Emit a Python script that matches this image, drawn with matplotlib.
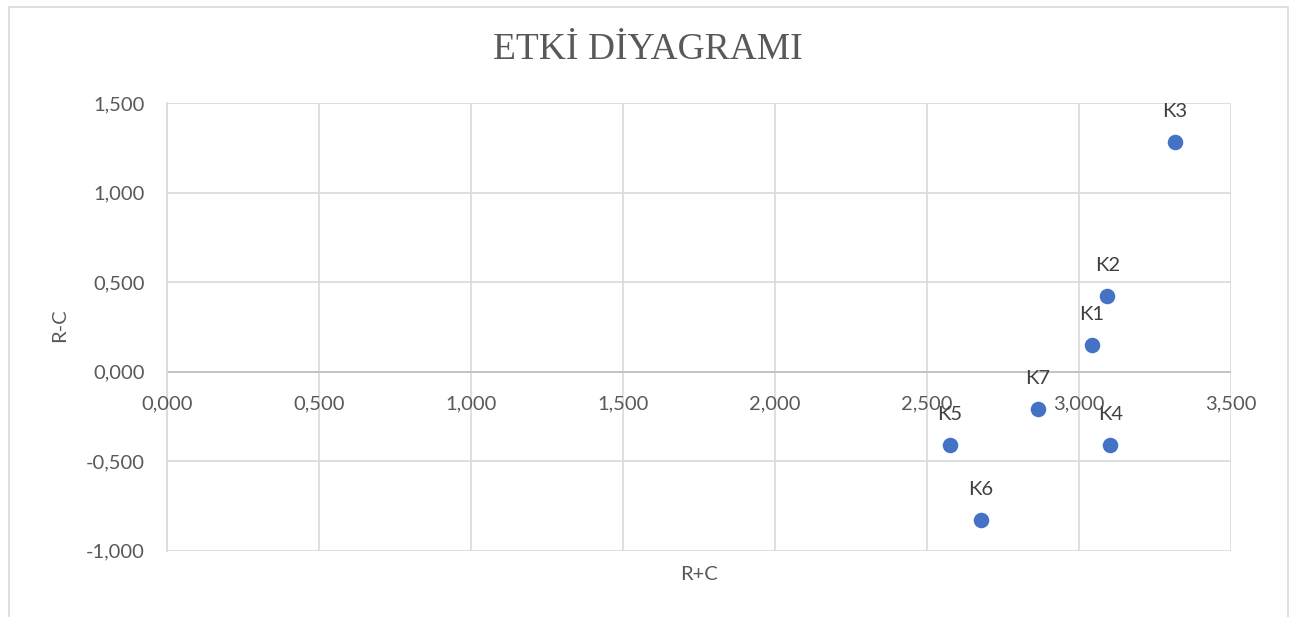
import matplotlib
matplotlib.use("Agg")
import matplotlib.pyplot as plt
from matplotlib.patches import Rectangle
from matplotlib.ticker import FuncFormatter, MultipleLocator

labels = ["K1", "K2", "K3", "K4", "K5", "K6", "K7"]
rc_sum = [3.043, 3.093, 3.316, 3.103, 2.574, 2.678, 2.864]
rc_diff = [0.149, 0.425, 1.286, -0.407, -0.412, -0.829, -0.210]

W, H = 1297, 617
fig = plt.figure(figsize=(W / 100, H / 100), dpi=100)
fig.patch.set_facecolor("white")

# outer chart border
fig.add_artist(Rectangle((8.5 / W, -0.1), (1288 - 8.5) / W, 1.1 - 6.5 / H,
                         transform=fig.transFigure, fill=False,
                         edgecolor="#d9d9d9", linewidth=1.2))

left, right = 167.3 / W, 1231 / W
top, bottom = 103.3 / H, 550.7 / H
ax = fig.add_axes([left, 1 - bottom, right - left, bottom - top])

ax.set_xlim(0, 3.5)
ax.set_ylim(-1.0, 1.5)
ax.xaxis.set_major_locator(MultipleLocator(0.5))
ax.yaxis.set_major_locator(MultipleLocator(0.5))
fmt = FuncFormatter(lambda v, p: f"{v:.3f}".replace(".", ","))
ax.xaxis.set_major_formatter(fmt)
ax.yaxis.set_major_formatter(fmt)

ax.grid(True, color="#d9d9d9", linewidth=1.2)
ax.set_axisbelow(True)
for s in ["top", "right", "bottom"]:
    ax.spines[s].set_visible(False)
ax.spines["left"].set_color("#d9d9d9")
ax.spines["left"].set_linewidth(1.2)
ax.axhline(0, color="#bfbfbf", linewidth=1.2, zorder=1)

font = "Lato"
fs = 14.5
tick_color = "#595959"
ax.tick_params(axis="both", length=0, labelsize=fs, labelcolor=tick_color)
ax.tick_params(axis="y", pad=16)
for lab in ax.get_xticklabels() + ax.get_yticklabels():
    lab.set_fontfamily(font)

# x tick labels sit just below the zero line
ax.set_xticklabels([])
for xv in [0, 0.5, 1.0, 1.5, 2.0, 2.5, 3.0, 3.5]:
    ax.annotate(f"{xv:.3f}".replace(".", ","), (xv, 0), xytext=(0, -23),
                textcoords="offset points", ha="center", va="center",
                fontsize=fs, color=tick_color, fontfamily=font)

ax.scatter(rc_sum, rc_diff, s=125, color="#4472C4", zorder=3, linewidths=0)
for lx, ly, lt in zip(rc_sum, rc_diff, labels):
    ax.annotate(lt, (lx, ly), xytext=(0, 22), textcoords="offset points",
                ha="center", va="center", fontsize=fs, color="#404040",
                fontfamily=font)

fig.text(648 / W, 1 - 50 / H, "ETKİ DİYAGRAMI", ha="center", va="center",
         fontsize=27, color="#595959", fontfamily="Liberation Serif")
fig.text(699 / W, 1 - 575 / H, "R+C", ha="center", va="center",
         fontsize=fs, color="#595959", fontfamily=font)
fig.text(60 / W, 1 - 325 / H, "R-C", ha="center", va="center", rotation=90,
         fontsize=fs, color="#595959", fontfamily=font)

fig.savefig("out.png", dpi=100, facecolor="white")
